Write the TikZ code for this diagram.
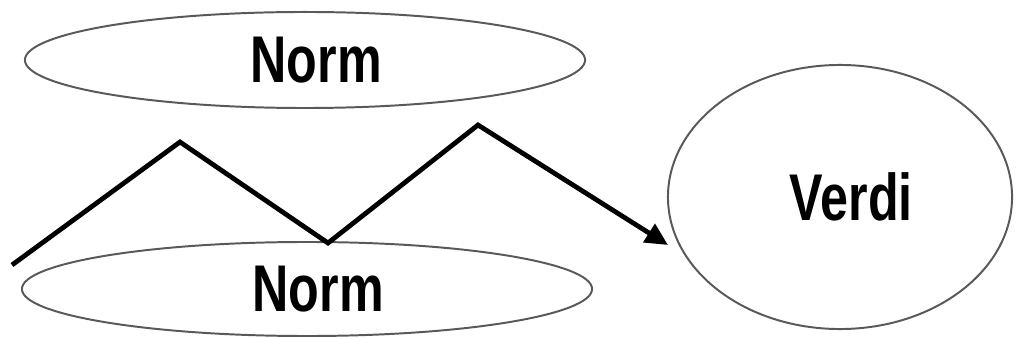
\documentclass[tikz,border=0pt]{standalone}
\usepackage{fontspec}
\setmainfont{Liberation Sans}
\usetikzlibrary{shapes.geometric,arrows.meta}
\tikzset{
  oval/.style={ellipse, draw=black!65, line width=1.4pt, inner sep=0pt},
  lbl/.style={font=\fontsize{47}{50}\selectfont\bfseries},
  zig/.style={line width=3.4pt, line join=miter, -{Triangle[length=16pt,width=15pt]}}
}
\newcommand{\narrow}[1]{\hspace*{16pt}\scalebox{0.76}[1]{#1}}
\begin{document}
\begin{tikzpicture}[x=0.025cm,y=-0.025cm]
\useasboundingbox (0,0) rectangle (1016,339);
\node[oval, minimum width=14cm, minimum height=2.4cm, lbl] (normtop) at (305,60) {\narrow{Norm}};
\node[oval, minimum width=14.25cm, minimum height=2.35cm, lbl] (normbot) at (307,289) {\narrow{Norm}};
\node[oval, minimum width=8.6cm, minimum height=6.6cm, lbl] (verdi) at (840,197) {\narrow{Verdi}};
\coordinate (z0) at (12,265);
\coordinate (z1) at (180,142);
\coordinate (z2) at (328,243);
\coordinate (z3) at (478,125);
\coordinate (z4) at (668,245);
\draw[zig] (z0) -- (z1) -- (z2) -- (z3) -- (z4);
\end{tikzpicture}
\end{document}
